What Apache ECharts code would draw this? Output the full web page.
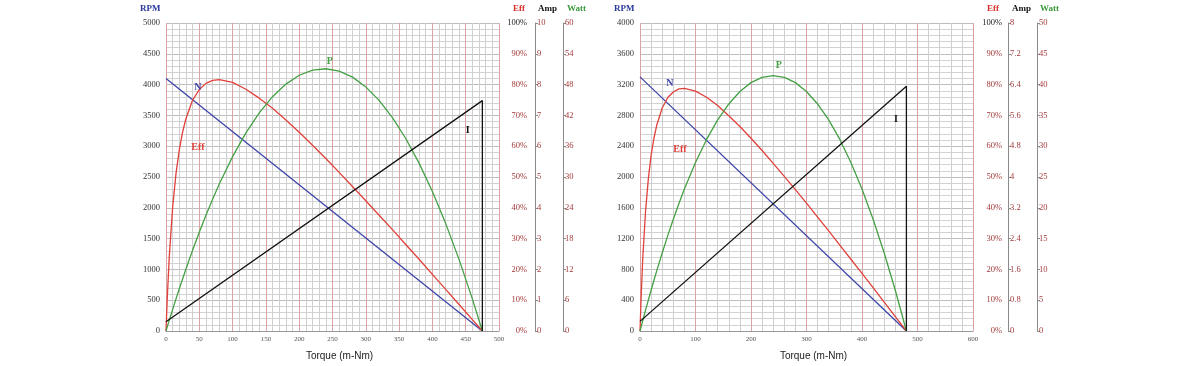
<!DOCTYPE html>
<html>
<head>
<meta charset="utf-8">
<script src="https://cdn.jsdelivr.net/npm/echarts@6/dist/echarts.min.js"></script>
<style>
html,body{margin:0;padding:0;background:#fff;}
#c{width:1200px;height:366px;}
</style>
</head>
<body>
<div id="c"></div>
<script>
// ---- Left motor ----
var torqueL = [0,2,5,10,15,20,25,30,40,50,60,70,80,100,120,140,160,180,200,220,240,260,280,300,320,340,360,380,400,420,440,460,475];
var effL = [0,11.2,24.4,40.2,51.1,58.9,64.7,69.0,75.0,78.4,80.4,81.4,81.6,80.7,78.5,75.6,72.3,68.5,64.5,60.3,56.0,51.5,46.9,42.3,37.6,32.9,28.1,23.3,18.4,13.5,8.6,3.7,0];
var powerL = [0,0.86,2.13,4.21,6.25,8.24,10.19,12.09,15.76,19.25,22.55,25.68,28.62,33.97,38.59,42.48,45.65,48.10,49.82,50.81,51.09,50.63,49.46,47.55,44.93,41.58,37.50,32.70,27.17,20.92,13.95,6.25,0];
var speedTL = [0,475];
var speedL = [4100,0];
var currentTL = [0,475,475];
var currentL = [0.3,7.48,0];

// ---- Right motor ----
var torqueR = [0,2,5,10,15,20,25,30,40,50,60,70,80,100,120,140,160,180,200,220,240,260,280,300,320,340,360,380,400,420,440,460,480];
var effR = [0,10.8,23.7,38.9,49.4,57.0,62.5,66.7,72.4,75.8,77.6,78.6,78.8,77.9,75.9,73.2,69.9,66.4,62.6,58.6,54.4,50.2,45.9,41.5,37.0,32.5,27.9,23.3,18.7,14.1,9.4,4.7,0];
var powerR = [0,0.69,1.71,3.38,5.02,6.62,8.19,9.72,12.67,15.48,18.14,20.66,23.04,27.36,31.10,34.27,36.86,38.88,40.32,41.18,41.47,41.18,40.32,38.88,36.86,34.27,31.10,27.36,23.04,18.14,12.67,6.62,0];
var speedTR = [0,480];
var speedR = [3300,0];
var currentTR = [0,480,480];
var currentR = [0.25,6.36,0];

// axis ranges / ticks
var xMaxL = 500, xStepL = 50, yMaxL = 5000, yStepL = 500, ampMaxL = 10, wattMaxL = 60;
var xMaxR = 600, xStepR = 100, yMaxR = 4000, yStepR = 400, ampMaxR = 8, wattMaxR = 50;

// curve label anchors (data coordinates)
var labelsL = {N:[48,3950], Eff:[48,59.7], P:[246,52.5], I:[453,6.5]};
var labelsR = {N:[54,3210], Eff:[72,59], P:[250,43.1], I:[461,5.5]};

function zip(a,b){ return a.map(function(v,i){ return [v,b[i]]; }); }

var SERIF = 'Liberation Serif';
var C_N = '#3c44a8', C_E = '#e0413a', C_P = '#45a045', C_I = '#111111';
var LBL = '#a33a3a';

var grids = [
  {left:166, top:23, width:333, height:310},
  {left:640, top:23, width:333, height:310}
];

function xAx(gi, max, step){
  return {
    type:'value', gridIndex:gi, min:0, max:max, interval:step,
    axisLine:{show:true, lineStyle:{color:'#999', width:1}},
    axisTick:{show:false},
    axisLabel:{fontFamily:SERIF, fontSize:7, color:'#555', margin:5, formatter:function(v){return String(v);}},
    splitLine:{show:true, lineStyle:{color:'#d9a3a3', width:1}},
    minorTick:{show:false, splitNumber:5},
    minorSplitLine:{show:true, lineStyle:{color:'#cfcfcf', width:1}},
    name:'Torque (m-Nm)', nameLocation:'middle', nameGap:20,
    nameTextStyle:{fontFamily:'Liberation Sans', fontSize:10, color:'#222', padding:[0,0,0,14]}
  };
}
function yMain(gi, max, step){
  return {
    type:'value', gridIndex:gi, min:0, max:max, interval:step, position:'left',
    axisLine:{show:false}, axisTick:{show:false},
    axisLabel:{fontFamily:SERIF, fontSize:8.5, color:'#333', margin:6, formatter:function(v){return String(v);}},
    splitLine:{show:true, lineStyle:{color:'#bdbdbd', width:1}},
    minorTick:{show:false, splitNumber:5},
    minorSplitLine:{show:true, lineStyle:{color:'#d3d3d3', width:1}}
  };
}
function yEff(gi, margin){
  return {
    type:'value', gridIndex:gi, min:0, max:100, interval:10, position:'right', offset:0,
    axisLine:{show:false}, axisTick:{show:false}, splitLine:{show:false},
    axisLabel:{fontFamily:SERIF, fontSize:8.5, color:LBL, align:'right', margin:margin,
      formatter:function(v){ return v===100 ? '{k|100%}' : v+'%'; },
      rich:{k:{fontFamily:SERIF, fontSize:8.5, color:'#222'}}}
  };
}
function ySide(gi, max, step, offset){
  return {
    type:'value', gridIndex:gi, min:0, max:max, interval:step, position:'right', offset:offset,
    axisLine:{show:true, lineStyle:{color:'#8a8a8a', width:1}},
    axisTick:{show:true, length:3, lineStyle:{color:'#8a8a8a'}},
    splitLine:{show:false},
    axisLabel:{fontFamily:SERIF, fontSize:8.5, color:LBL, margin:2,
      formatter:function(v){ return String(+v.toFixed(1)); }}
  };
}

function lineS(xi, yi, data, color, label, lw){
  return {
    type:'line', xAxisIndex:xi, yAxisIndex:yi, data:data, showSymbol:false, symbol:'none',
    smooth:false, lineStyle:{color:color, width:lw||1.3}, silent:true,
    markPoint: label ? {
      symbol:'circle', symbolSize:0, silent:true,
      label:{show:true, formatter:label.t, color:color, fontFamily:SERIF, fontWeight:'bold', fontSize:10},
      data:[{coord:label.c}]
    } : undefined
  };
}

var series = [
  lineS(0,0, zip(speedTL,speedL), C_N, {t:'N', c:labelsL.N}),
  lineS(0,1, zip(torqueL,effL), C_E, {t:'Eff', c:labelsL.Eff}),
  lineS(0,3, zip(torqueL,powerL), C_P, {t:'P', c:labelsL.P}),
  lineS(0,2, zip(currentTL,currentL), C_I, {t:'I', c:labelsL.I}),
  lineS(1,4, zip(speedTR,speedR), C_N, {t:'N', c:labelsR.N}),
  lineS(1,5, zip(torqueR,effR), C_E, {t:'Eff', c:labelsR.Eff}),
  lineS(1,7, zip(torqueR,powerR), C_P, {t:'P', c:labelsR.P}),
  lineS(1,6, zip(currentTR,currentR), C_I, {t:'I', c:labelsR.I})
];

function title(x, text, color){
  return {type:'text', left:x, top:4, style:{text:text, fill:color, font:'bold 9px "Liberation Serif"'}};
}

var chart = echarts.init(document.getElementById('c'), null, {renderer:'canvas'});
chart.setOption({
  animation:false,
  backgroundColor:'#ffffff',
  grid:grids,
  xAxis:[xAx(0,xMaxL,xStepL), xAx(1,xMaxR,xStepR)],
  yAxis:[
    yMain(0,yMaxL,yStepL), yEff(0,28), ySide(0,ampMaxL,ampMaxL/10,36), ySide(0,wattMaxL,wattMaxL/10,64),
    yMain(1,yMaxR,yStepR), yEff(1,29), ySide(1,ampMaxR,ampMaxR/10,35), ySide(1,wattMaxR,wattMaxR/10,64)
  ],
  series:series,
  graphic:[
    title(140,'RPM','#2b3a9a'), title(513,'Eff','#d6302a'), title(538,'Amp','#111'), title(567,'Watt','#3a9a3a'),
    title(614,'RPM','#2b3a9a'), title(987,'Eff','#d6302a'), title(1012,'Amp','#111'), title(1040,'Watt','#3a9a3a')
  ]
});
</script>
</body>
</html>
